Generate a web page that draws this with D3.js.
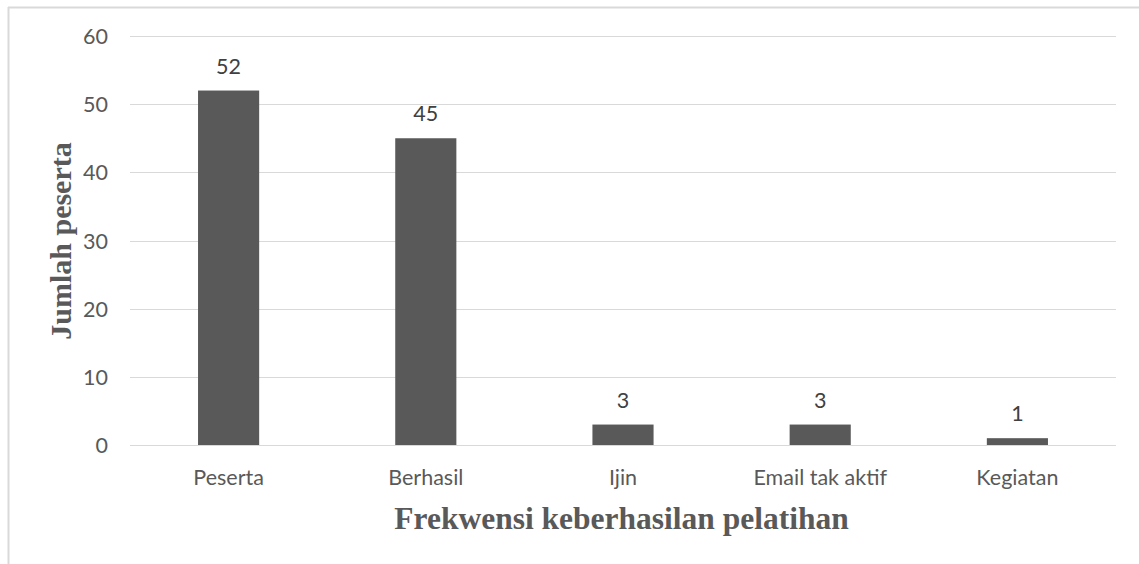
<!DOCTYPE html>
<html><head><meta charset="utf-8">
<script src="https://cdn.jsdelivr.net/npm/d3@7"></script>
<style>body{margin:0;background:#fff}svg{display:block}</style>
</head><body>
<script>
const categories = ["Peserta", "Berhasil", "Ijin", "Email tak aktif", "Kegiatan"];
const values = [52, 45, 3, 3, 1];
const yTicks = [0, 10, 20, 30, 40, 50, 60];
const yTitle = "Jumlah peserta";
const xTitle = "Frekwensi keberhasilan pelatihan";

(function () {
const W = 1139, H = 564;
const svg = d3.select("body").append("svg").attr("width", W).attr("height", H);

// chart border (top and left visible)
svg.append("line").attr("x1", 8).attr("x2", W).attr("y1", 7.5).attr("y2", 7.5).attr("stroke", "#d9d9d9").attr("stroke-width", 2);
svg.append("line").attr("x1", 8.5).attr("x2", 8.5).attr("y1", 7).attr("y2", H).attr("stroke", "#d9d9d9").attr("stroke-width", 2);

const pL = 130, pR = 1116, pT = 36, pB = 445;
const x = d3.scaleBand().domain(categories).range([pL, pR]).paddingInner(0.69).paddingOuter(0.345);
const y = d3.scaleLinear().domain([0, 60]).range([pB, pT]);

const font = "Lato, 'Open Sans', sans-serif";
const fs = 21.5;

// gridlines
svg.append("g").selectAll("line").data(yTicks).join("line")
  .attr("x1", pL).attr("x2", pR)
  .attr("y1", d => Math.round(y(d)) + 0.5).attr("y2", d => Math.round(y(d)) + 0.5)
  .attr("stroke", "#d9d9d9").attr("stroke-width", 1);

// y axis labels
const yAxis = d3.axisLeft(y).tickValues(yTicks).tickSize(0).tickPadding(0);
const gy = svg.append("g").attr("transform", `translate(108,0)`).call(yAxis);
gy.select(".domain").remove();
gy.selectAll("text").attr("font-family", font).attr("font-size", fs).attr("fill", "#595959").attr("dy", "0.35em");

// bars
svg.append("g").selectAll("rect").data(values).join("rect")
  .attr("x", (d, i) => x(categories[i]))
  .attr("width", x.bandwidth())
  .attr("y", d => y(d))
  .attr("height", d => y(0) - y(d))
  .attr("fill", "#595959");

// data labels
svg.append("g").selectAll("text").data(values).join("text")
  .attr("x", (d, i) => x(categories[i]) + x.bandwidth() / 2)
  .attr("y", d => y(d) - 17)
  .attr("text-anchor", "middle")
  .attr("font-family", font).attr("font-size", fs).attr("fill", "#404040")
  .text(d => d);

// x axis labels
const xAxis = d3.axisBottom(x).tickSize(0).tickPadding(0);
const gx = svg.append("g").attr("transform", `translate(0,${pB})`).call(xAxis);
gx.select(".domain").remove();
gx.selectAll("text").attr("font-family", font).attr("font-size", fs).attr("fill", "#595959").attr("dy", 0).attr("y", 40);

// axis titles
svg.append("text").attr("x", 621.5).attr("y", 529)
  .attr("text-anchor", "middle").attr("font-family", "'Liberation Serif', serif")
  .attr("font-weight", "bold").attr("font-size", 31.5).attr("fill", "#595959").text(xTitle);

svg.append("text").attr("transform", `translate(71,241) rotate(-90)`)
  .attr("text-anchor", "middle").attr("font-family", "'Liberation Serif', serif")
  .attr("font-weight", "bold").attr("font-size", 30).attr("fill", "#595959").text(yTitle);
})();
</script>
</body></html>
